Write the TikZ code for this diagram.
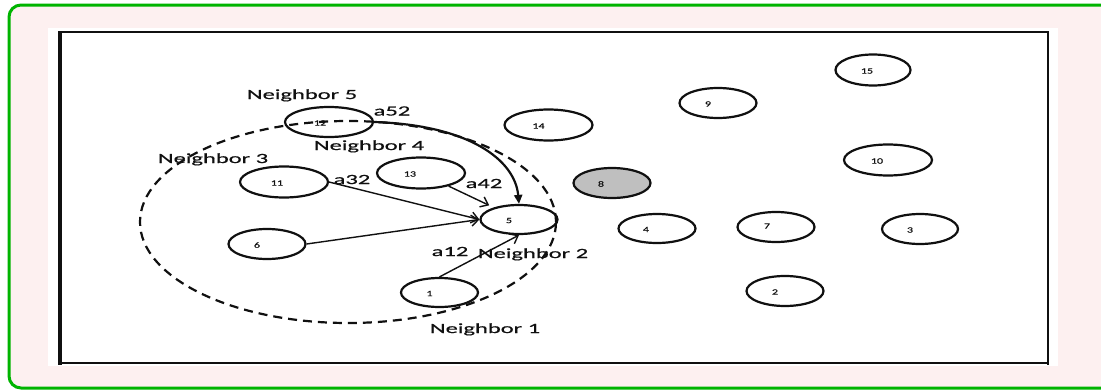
\documentclass[tikz,border=0pt]{standalone}
\usepackage{fontspec}
\setmainfont{Carlito}
\newfontfamily\lblfont[FakeStretch=1.75,FakeBold=0.6]{Carlito}
\newfontfamily\numfont[FakeStretch=1.5,FakeBold=0.4]{Carlito}
\usetikzlibrary{shapes.geometric,arrows.meta}
\definecolor{bgpink}{HTML}{FDF0F0}
\definecolor{framegreen}{HTML}{00B400}
\definecolor{nodegray}{HTML}{BFBFBF}
\definecolor{ink}{HTML}{101010}
\begin{document}
\begin{tikzpicture}[x=1pt,y=-1pt,
  nd/.style={ellipse,draw=ink,line width=2.2pt,inner sep=0pt,minimum width=77pt,minimum height=30pt},
  wide/.style={minimum width=88pt,minimum height=31pt},
  num/.style={font=\numfont\fontsize{8}{9}\selectfont,text=ink},
  lbl/.style={font=\lblfont\fontsize{14}{16}\selectfont,inner sep=0pt,anchor=base,text=ink},
  arr/.style={draw=ink,line width=1.4pt,-{Straight Barb[length=7pt,width=11pt]}},
  curvearr/.style={draw=ink,line width=2.2pt,-{Triangle[length=9pt,width=8pt]}},
  nbr/.style={draw=ink,dash pattern=on 9pt off 6pt,line width=2.2pt}]
\useasboundingbox (0,0) rectangle (1101,391);
\fill[white] (0,0) rectangle (1101,391);
\draw[framegreen,line width=3pt,fill=bgpink,rounded corners=12pt] (9,5) rectangle (1118,388);
\fill[white] (48,28) rectangle (1058,366);
% frame
\draw[ink,line width=1.8pt] (60,32) rectangle (1048,363);
\draw[ink,line width=3.2pt] (60,31) -- (60,364.5);
\draw[ink,line width=2.8pt] (1048,31) -- (1048,364.5);
\draw[ink,line width=2.3pt] (60,363) -- (1048,363);
% nodes
\node[nd,minimum width=75pt,minimum height=31pt,label={[num,xshift=-6pt,yshift=-1pt]center:15}] (n15) at (873,70) {};
\node[nd,label={[num,xshift=-10pt,yshift=-1pt]center:9}] (n9) at (718,103) {};
\node[nd,wide,label={[num,xshift=-10pt,yshift=-1pt]center:14}] (n14) at (548.5,125) {};
\node[nd,wide,minimum height=30pt,label={[num,xshift=-9pt,yshift=-1pt]center:12}] (n12) at (329,122) {};
\node[nd,wide,label={[num,xshift=-11pt,yshift=-1pt]center:10}] (n10) at (888,160) {};
\node[nd,wide,label={[num,xshift=-7pt,yshift=-1pt]center:11}] (n11) at (284,182) {};
\node[nd,wide,label={[num,xshift=-11pt,yshift=-1pt]center:13}] (n13) at (421,173) {};
\node[nd,fill=nodegray,label={[num,xshift=-11pt,yshift=-1pt]center:8}] (n8) at (612,183) {};
\node[nd,minimum height=29pt,label={[num,xshift=-10pt,yshift=-1pt]center:5}] (n5) at (519,219.5) {};
\node[nd,minimum height=29pt,label={[num,xshift=-11pt,yshift=-1pt]center:4}] (n4) at (657,228.5) {};
\node[nd,label={[num,xshift=-9pt,yshift=1pt]center:7}] (n7) at (776,227) {};
\node[nd,minimum width=76pt,label={[num,xshift=-10pt,yshift=-1pt]center:3}] (n3) at (920,229) {};
\node[nd,label={[num,xshift=-10pt,yshift=-1pt]center:6}] (n6) at (267,244) {};
\node[nd,minimum height=29pt,label={[num,xshift=-10pt,yshift=-1pt]center:1}] (n1) at (439.5,292.5) {};
\node[nd,label={[num,xshift=-10pt,yshift=-1pt]center:2}] (n2) at (785,291) {};
% connectors
\draw[arr] (n11.east) -- (n5.west);
\draw[arr] (n6.east) -- (n5.west);
\draw[arr,shorten >=5pt] (n13) -- (n5);
\draw[arr] (n1.north) -- (n5.south);
\draw[curvearr] (n12.east) .. controls +(95,3) and +(-4,-44) .. (n5.north);
% labels
\node[lbl] (t5) at (302,99) {Neighbor 5};
\node[lbl] (ta52) at (392,115.5) {a52};
\node[lbl] (t4) at (369,150) {Neighbor 4};
\node[lbl] (t3) at (213,163) {Neighbor 3};
\node[lbl] (ta32) at (352,184) {a32};
\node[lbl] (ta42) at (484,188) {a42};
\node[lbl] (ta12) at (450,256) {a12};
\node[lbl] (t2) at (533,258) {Neighbor 2};
\node[lbl] (t1) at (485,333) {Neighbor 1};
% neighbourhood
\node[ellipse,nbr,inner sep=0pt,minimum width=416pt,minimum height=202pt] (hood) at (348,222) {};
\end{tikzpicture}
\end{document}
